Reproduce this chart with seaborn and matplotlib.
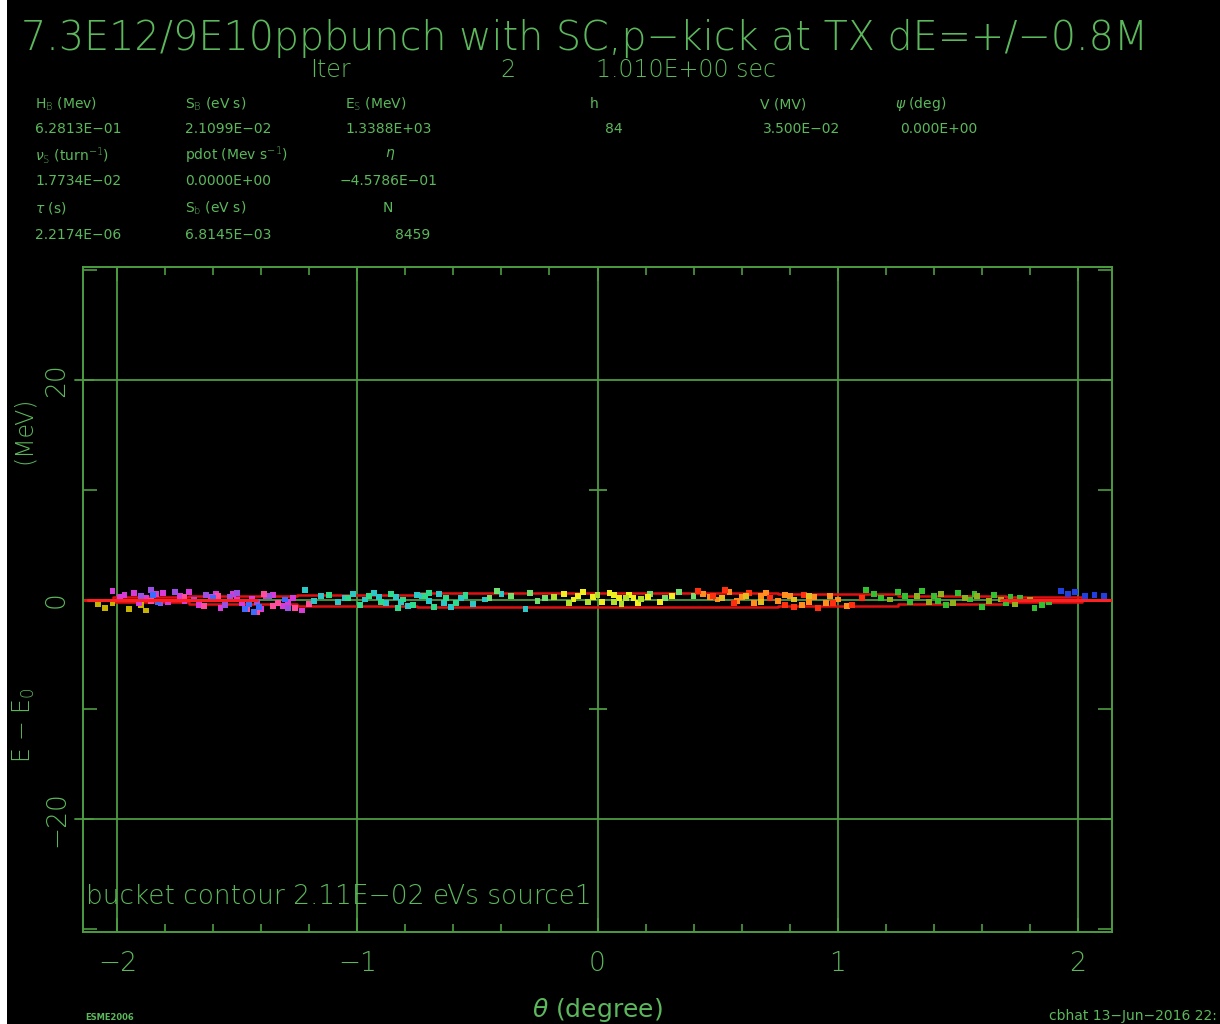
import numpy as np
import pandas as pd
import matplotlib
matplotlib.use("Agg")
import matplotlib.pyplot as plt
import seaborn as sns
from matplotlib.ticker import MultipleLocator

# ---------------- data ----------------
title = "7.3E12/9E10ppbunch with SC,p\u2212kick at TX dE=+/\u22120.8M"
iter_line = ["Iter", "2", "1.010E+00 sec"]

param_labels = [
    [r"H$_{\rm B}$ (Mev)", r"S$_{\rm B}$ (eV s)", r"E$_{\rm S}$ (MeV)", "h", "V (MV)", r"$\psi$ (deg)"],
    [r"$\nu_{\rm S}$ (turn$^{-1}$)", r"pdot (Mev s$^{-1}$)", r"$\eta$"],
    [r"$\tau$ (s)", r"S$_{\rm b}$ (eV s)", "N"],
]
param_values = [
    ["6.2813E\u221201", "2.1099E\u221202", "1.3388E+03", "84", "3.500E\u221202", "0.000E+00"],
    ["1.7734E\u221202", "0.0000E+00", "\u22124.5786E\u221201"],
    ["2.2174E\u221206", "6.8145E\u221203", "8459"],
]

x_ticks = [-2, -1, 0, 1, 2]
y_ticks = [-20, 0, 20]

# bucket contour (theta in degree, dE in MeV)
contour_theta = [-2.14, -1.9, -1.5, -1.0, -0.5, 0.0, 0.5, 1.0, 1.5, 1.9, 2.14]
contour_upper = [0.0, 0.2, 0.35, 0.45, 0.55, 0.6, 0.6, 0.5, 0.35, 0.2, 0.0]
contour_lower = [0.0, -0.2, -0.4, -0.55, -0.65, -0.7, -0.7, -0.6, -0.4, -0.25, 0.0]
center_left_theta = [-2.12, -1.42]
center_right_theta = [1.68, 2.14]
center_dE = [0.0, 0.0]

# particles by colour group
g_yellow_l_x = [-2.08, -2.05, -2.02, -1.95, -1.90, -1.88]
g_yellow_l_y = [-0.4, -0.8, -0.3, -0.9, -0.5, -1.0]
g_magenta_x = [-2.02, -1.97, -1.93, -1.88, -1.84, -1.79, -1.74, -1.70, -1.66, -1.61,
               -1.57, -1.52, -1.48, -1.44, -1.40, -1.35, -1.31, -1.27, -1.23, -1.99,
               -1.91, -1.81, -1.72, -1.59, -1.50, -1.38, -1.29]
g_magenta_y = [0.8, 0.4, 0.6, 0.1, 0.5, -0.2, 0.3, 0.7, -0.5, 0.2,
               -0.8, 0.5, -0.3, 0.05, -0.9, 0.4, -0.6, 0.1, -1.0, 0.2,
               -0.3, 0.6, -0.1, 0.5, 0.0, 0.3, -0.2]
g_violet_x = [-1.90, -1.82, -1.76, -1.68, -1.63, -1.55, -1.50, -1.42, -1.37, -1.29, -1.86, -1.53]
g_violet_y = [0.3, -0.3, 0.7, 0.0, 0.4, -0.5, 0.6, -0.2, 0.3, -0.8, 0.9, 0.2]
g_pink_x = [-1.86, -1.72, -1.64, -1.58, -1.46, -1.39, -1.33, -1.26, -1.20, -1.42, -1.35]
g_pink_y = [-0.1, 0.2, -0.6, 0.3, -0.9, 0.5, -0.3, -0.8, -0.4, -1.1, -0.6]
g_blue_x = [-1.85, -1.83, -1.60, -1.47, -1.45, -1.43, -1.30, -1.41]
g_blue_y = [0.4, -0.2, 0.1, -0.9, -0.4, -1.1, 0.0, -0.7]
g_cyan_x = [-1.22, -1.15, -1.08, -1.02, -0.97, -0.93, -0.88, -0.84, -0.79, -0.75,
            -0.70, -0.66, -0.61, -0.57, -0.52, -0.47, -0.40, -0.30, -1.18, -1.05,
            -0.91, -0.82, -0.73, -0.64, -0.55]
g_cyan_y = [0.9, 0.3, -0.2, 0.5, 0.0, 0.6, -0.3, 0.2, -0.6, 0.4,
            -0.1, 0.5, -0.7, 0.1, -0.4, 0.0, 0.5, -0.9, -0.1, 0.1,
            0.2, -0.2, 0.3, -0.3, 0.3]
g_teal_x = [-1.04, -0.99, -0.95, -0.90, -0.86, -0.81, -0.77, -0.72, -0.68, -0.63, -0.59,
            -0.55, -1.12, -0.83, -0.70]
g_teal_y = [0.1, -0.5, 0.3, -0.2, 0.5, 0.0, -0.5, 0.3, -0.7, 0.1, -0.3,
            0.4, 0.4, -0.8, 0.6]
g_lgreen_x = [-0.42, -0.36, -0.28, -0.22, 0.22, 0.28, 0.34, 0.40, -0.45, -0.25]
g_lgreen_y = [0.8, 0.3, 0.6, 0.1, 0.5, 0.1, 0.7, 0.3, 0.1, -0.1]
g_yellow_x = [-0.14, -0.10, -0.06, -0.02, 0.02, 0.05, 0.09, 0.13, 0.17, 0.21, 0.26, 0.31,
              -0.08, 0.07, 0.15]
g_yellow_y = [0.5, 0.0, 0.7, 0.2, -0.2, 0.6, 0.1, 0.4, -0.3, 0.2, -0.2, 0.3,
              0.3, 0.4, 0.1]
g_ygreen_x = [-0.18, -0.12, -0.04, 0.0, 0.07, 0.12, 0.18, 0.10]
g_ygreen_y = [0.2, -0.3, -0.2, 0.4, -0.2, 0.1, 0.05, -0.4]
g_orange_x = [0.44, 0.50, 0.55, 0.60, 0.65, 0.70, 0.75, 0.80, 0.85, 0.90, 0.95, 1.00,
              1.04, 0.47, 0.58, 0.68, 0.78, 0.88, 0.97]
g_orange_y = [0.5, 0.0, 0.7, 0.2, -0.3, 0.6, -0.1, 0.3, -0.5, 0.2, -0.3, 0.0,
              -0.6, 0.2, -0.1, 0.3, 0.4, -0.2, 0.3]
g_red_x = [0.42, 0.48, 0.57, 0.63, 0.72, 0.78, 0.86, 0.92, 0.98, 1.06, 1.10, 0.53, 0.82]
g_red_y = [0.8, 0.3, -0.3, 0.6, 0.1, -0.5, 0.4, -0.8, -0.3, -0.5, 0.1, 0.9, -0.7]
g_gold_x = [0.52, 0.62, 0.68, 0.82, 0.88]
g_gold_y = [0.1, 0.3, -0.2, 0.0, 0.3]
g_green_x = [1.12, 1.18, 1.25, 1.30, 1.35, 1.40, 1.45, 1.50, 1.55, 1.60, 1.65, 1.70, 1.76,
             1.82, 1.88, 1.15, 1.28, 1.42, 1.57, 1.72, 1.85]
g_green_y = [0.9, 0.1, 0.7, -0.2, 0.8, 0.3, -0.5, 0.6, 0.0, -0.7, 0.4, -0.3, 0.1,
             -0.8, -0.2, 0.5, 0.3, -0.1, 0.5, 0.2, -0.5]
g_olive_x = [1.22, 1.33, 1.38, 1.43, 1.48, 1.53, 1.58, 1.63, 1.68, 1.74, 1.80]
g_olive_y = [0.0, 0.3, -0.2, 0.5, -0.3, 0.1, 0.3, -0.1, 0.0, -0.4, 0.0]
g_blue_r_x = [1.93, 1.96, 1.99, 2.03, 2.07, 2.11]
g_blue_r_y = [0.8, 0.5, 0.7, 0.3, 0.4, 0.35]

groups = {
    "yellow_l": (g_yellow_l_x, g_yellow_l_y, "#c8b400"),
    "magenta": (g_magenta_x, g_magenta_y, "#d83cd8"),
    "violet": (g_violet_x, g_violet_y, "#9a50e0"),
    "pink": (g_pink_x, g_pink_y, "#ff4d9a"),
    "blue": (g_blue_x, g_blue_y, "#3d6bff"),
    "cyan": (g_cyan_x, g_cyan_y, "#2cc8c8"),
    "teal": (g_teal_x, g_teal_y, "#2cdc8c"),
    "lgreen": (g_lgreen_x, g_lgreen_y, "#70e070"),
    "yellow": (g_yellow_x, g_yellow_y, "#f0f020"),
    "ygreen": (g_ygreen_x, g_ygreen_y, "#b0e030"),
    "orange": (g_orange_x, g_orange_y, "#ff9020"),
    "red": (g_red_x, g_red_y, "#ff3010"),
    "gold": (g_gold_x, g_gold_y, "#e0c020"),
    "green": (g_green_x, g_green_y, "#30c030"),
    "olive": (g_olive_x, g_olive_y, "#90b020"),
    "blue_r": (g_blue_r_x, g_blue_r_y, "#2040e0"),
}

rows = []
for name, (xs, ys, _) in groups.items():
    for xv, yv in zip(xs, ys):
        rows.append((xv, yv, name))
df = pd.DataFrame(rows, columns=["theta", "dE", "src"])
palette = {k: v[2] for k, v in groups.items()}

# ---------------- style ----------------
sns.set_theme(style="dark")
plt.rcParams["font.family"] = ["DejaVu Sans"]
plt.rcParams["font.weight"] = "light"
plt.rcParams["mathtext.fontset"] = "dejavusans"

GREEN = "#4c9c40"
TGREEN = "#5cb85c"
W, H = 1220, 1024

fig = plt.figure(figsize=(W / 100, H / 100), dpi=100, facecolor="black")
ax = fig.add_axes([83 / W, 1 - 932 / H, (1112 - 83) / W, (932 - 267) / H])
ax.set_facecolor("black")

# white strip at left edge (screenshot border)
fig.patches.append(plt.Rectangle((0, 0), 7 / W, 1, transform=fig.transFigure,
                                 facecolor="white", edgecolor="none", zorder=0))

XL = 2.1429
ax.set_xlim(-XL, XL)
ax.set_ylim(-30.3, 30.3)

# grid
for xv in x_ticks:
    ax.axvline(xv, color=GREEN, lw=1.3, zorder=1)
for yv in y_ticks:
    ax.axhline(yv, color=GREEN, lw=1.3, zorder=1)
for yv in [y for y in y_ticks if y != 0]:
    ax.plot([-XL - 0.035, -XL], [yv, yv], color=GREEN, lw=1.3, clip_on=False)
# cross ticks on the centre grid line
ax.scatter([0, 0], [10, -10], marker="_", s=160, color=GREEN, linewidths=1.3, zorder=1)

# contour
ax.plot(contour_theta, contour_upper, color="#e01010", lw=1.8, drawstyle="steps-mid", zorder=2)
ax.plot(contour_theta, contour_lower, color="#e01010", lw=1.8, drawstyle="steps-mid", zorder=2)

sns.scatterplot(data=df, x="theta", y="dE", hue="src", palette=palette, marker="s",
                s=18, linewidth=0, legend=False, ax=ax, zorder=3)

ax.plot(center_left_theta, center_dE, color="#ff2020", lw=2.2, zorder=4)
ax.plot(center_right_theta, center_dE, color="#ff2020", lw=2.2, zorder=4)

# ticks
ax.set_xticks(x_ticks)
ax.set_yticks(y_ticks)
ax.xaxis.set_minor_locator(MultipleLocator(0.2))
ax.yaxis.set_minor_locator(MultipleLocator(10))
ax.tick_params(axis="both", which="both", direction="in", colors=GREEN,
               top=True, right=True, bottom=True, left=True)
ax.tick_params(axis="x", which="major", length=10, width=1.3, labelsize=19,
               labelcolor=TGREEN, pad=14)
ax.tick_params(axis="x", which="minor", length=6, width=1.2)
ax.tick_params(axis="y", which="major", length=8, width=1.3, labelsize=19,
               labelcolor=TGREEN, pad=10)
ax.tick_params(axis="y", which="minor", length=10, width=1.2)
ax.set_xticklabels([str(t).replace("-", "\u2212") for t in x_ticks])
ax.set_yticklabels([str(t).replace("-", "\u2212") for t in y_ticks], rotation=90, va="center")

for sp in ax.spines.values():
    sp.set_color(GREEN)
    sp.set_linewidth(1.4)

ax.set_xlabel(r"$\theta$ (degree)", color=TGREEN, fontsize=18, labelpad=14)
ax.set_ylabel("")

ax.text(0.003, 0.035, "bucket contour 2.11E\u221202 eVs source1", transform=ax.transAxes,
        color=TGREEN, fontsize=19, ha="left", va="bottom")

# header texts
def ftext(x, y, s, **kw):
    kw.setdefault("va", "center")
    fig.text(x / W, 1 - y / H, s, color=TGREEN, **kw)

ftext(24, 430, "(MeV)", fontsize=17, ha="center", rotation=90)
ftext(24, 725, r"E $-$ E$_{\rm 0}$", fontsize=17, ha="center", rotation=90)

ftext(585, 38, title, fontsize=28.5, ha="center")
ftext(310, 70, iter_line[0], fontsize=17, ha="left")
ftext(500, 70, iter_line[1], fontsize=17, ha="left")
ftext(596, 70, iter_line[2], fontsize=17, ha="left")

label_x = [[35, 185, 345, 590, 760, 895], [35, 185, 385], [35, 185, 383]]
value_x = [[35, 185, 345, 605, 763, 900], [35, 185, 340], [35, 185, 395]]
label_y = [104, 155, 208]
value_y = [129, 181, 235]
for r in range(3):
    for c, s in enumerate(param_labels[r]):
        ftext(label_x[r][c], label_y[r], s, fontsize=10, ha="left", fontweight="normal")
    for c, s in enumerate(param_values[r]):
        ftext(value_x[r][c], value_y[r], s, fontsize=10, ha="left", fontweight="normal")

ftext(85, 1018, "ESME2006", fontsize=6, ha="left", fontweight="bold")
ftext(1217, 1016, "cbhat 13\u2212Jun\u22122016 22:", fontsize=10, ha="right", fontweight="normal")

fig.savefig("out.png", dpi=100, facecolor="black")
